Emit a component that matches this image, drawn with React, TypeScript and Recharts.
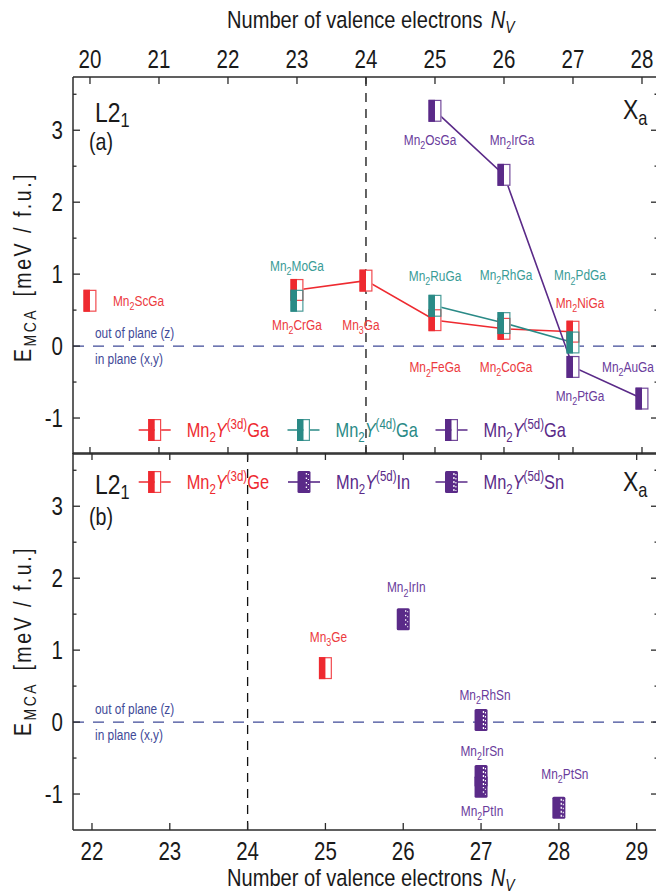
import React from 'react';
import { ComposedChart, Scatter, XAxis, YAxis, ReferenceLine } from 'recharts';

const FONT = "'Liberation Sans', Arial, sans-serif";
const SX = 0.82; // horizontal condensing to mimic a narrow face

type Pt = { nv: number; e: number; name: string };

// ---------- panel (a): Mn2Y Ga ----------
const gaY3dIsolated: Pt[] = [{ nv: 20, e: 0.63, name: 'Mn2ScGa' }];
const gaY3d: Pt[] = [
  { nv: 23, e: 0.78, name: 'Mn2CrGa' },
  { nv: 24, e: 0.91, name: 'Mn3Ga' },
  { nv: 25, e: 0.36, name: 'Mn2FeGa' },
  { nv: 26, e: 0.24, name: 'Mn2CoGa' },
  { nv: 27, e: 0.2, name: 'Mn2NiGa' },
];
const gaY4dIsolated: Pt[] = [{ nv: 23, e: 0.63, name: 'Mn2MoGa' }];
const gaY4d: Pt[] = [
  { nv: 25, e: 0.56, name: 'Mn2RuGa' },
  { nv: 26, e: 0.32, name: 'Mn2RhGa' },
  { nv: 27, e: 0.05, name: 'Mn2PdGa' },
];
const gaY5d: Pt[] = [
  { nv: 25, e: 3.27, name: 'Mn2OsGa' },
  { nv: 26, e: 2.38, name: 'Mn2IrGa' },
  { nv: 27, e: -0.29, name: 'Mn2PtGa' },
  { nv: 28, e: -0.73, name: 'Mn2AuGa' },
];

// ---------- panel (b): Ge, In, Sn ----------
const geY3d: Pt[] = [{ nv: 25, e: 0.75, name: 'Mn3Ge' }];
const inY5d: Pt[] = [
  { nv: 26, e: 1.43, name: 'Mn2IrIn' },
  { nv: 27, e: -0.9, name: 'Mn2PtIn' },
];
const snY5d: Pt[] = [
  { nv: 27, e: 0.03, name: 'Mn2RhSn' },
  { nv: 27, e: -0.75, name: 'Mn2IrSn' },
  { nv: 28, e: -1.19, name: 'Mn2PtSn' },
];

const xTicksA = [20, 21, 22, 23, 24, 25, 26, 27, 28];
const xTicksB = [22, 23, 24, 25, 26, 27, 28, 29];
const yTicks = [-1, -0.5, 0, 0.5, 1, 1.5, 2, 2.5, 3, 3.5];
const xDomainA: [number, number] = [19.754, 28.232];
const xDomainB: [number, number] = [21.756, 29.274];
const yDomain: [number, number] = [-1.5, 3.74];
const slaterPaulingNv = 24;

// ---------- styles ----------
const AX = '#2b2b2b';
const RED = '#ee2a30';
const TEAL = '#2a8a86';
const PURPLE = '#5a2a88';
const RED_T = '#ec3a40';
const TEAL_T = '#3a9c97';
const PURPLE_T = '#6a3c9c';
const NAVY = '#3f4a98';
const INK = '#1a1a1a';

const LABEL_OFFSET: Record<string, [number, number, string?]> = {
  Mn2ScGa: [23, 0, 'start'],
  Mn2CrGa: [0, 35],
  Mn2MoGa: [0, -35],
  Mn3Ga: [-5, 44],
  Mn2FeGa: [0, 47],
  Mn2RuGa: [0, -30],
  Mn2CoGa: [2, 38],
  Mn2RhGa: [2, -48],
  Mn2NiGa: [7, -29],
  Mn2PdGa: [7, -67],
  Mn2OsGa: [-5, 29],
  Mn2IrGa: [8, -35],
  Mn2PtGa: [7, 29],
  Mn2AuGa: [-40, -32, 'start'],
  Mn3Ge: [3, -31],
  Mn2IrIn: [3, -32],
  Mn2PtIn: [1, 24],
  Mn2RhSn: [4, -25],
  Mn2IrSn: [1, -25],
  Mn2PtSn: [6, -34],
};

const MW = 13;
const MH = 22;

// narrow text helper
const NT = ({ x, y, size, fill = INK, anchor = 'start', rotate, children, style }: any) => (
  <text
    transform={`translate(${x} ${y})${rotate ? ` rotate(${rotate})` : ''} scale(${SX} 1)`}
    x={0}
    y={0}
    fontSize={size}
    fontFamily={FONT}
    fill={fill}
    textAnchor={anchor}
    style={style}
  >
    {children}
  </text>
);

const SubText = ({ x, y, name, fill, size, anchor }: any) => {
  const parts: string[] = name.match(/[A-Za-z]+|\d+/g) || [];
  const off = size * 0.3;
  let prevSub = false;
  return (
    <NT x={x} y={y} fill={fill} size={size} anchor={anchor || 'middle'}>
      {parts.map((p, i) => {
        const isSub = /^\d+$/.test(p);
        let dy = 0;
        if (isSub && !prevSub) dy = off;
        if (!isSub && prevSub) dy = -off;
        prevSub = isSub;
        return (
          <tspan key={i} dy={dy} fontSize={isSub ? size * 0.75 : size}>
            {p}
          </tspan>
        );
      })}
    </NT>
  );
};

const HalfMarker = ({ cx, cy, color, variant }: any) => {
  const x0 = cx - MW / 2;
  const y0 = cy - MH / 2;
  if (variant === 'in' || variant === 'sn') {
    return (
      <g>
        <rect x={x0} y={y0} width={MW} height={MH} fill={color} rx={1.5} />
        <line
          x1={cx + 2.4}
          x2={cx + 2.4}
          y1={y0 + 2}
          y2={y0 + MH - 2}
          stroke="#fff"
          strokeWidth={1.3}
          strokeDasharray={variant === 'in' ? '1.5 3' : '2 2'}
        />
        <line
          x1={cx + 4.4}
          x2={cx + 4.4}
          y1={y0 + 3}
          y2={y0 + MH - 2}
          stroke="#fff"
          strokeWidth={1.1}
          strokeDasharray={variant === 'in' ? '1 4' : '1.5 2.5'}
        />
      </g>
    );
  }
  return (
    <g>
      <rect x={x0} y={y0} width={MW / 2} height={MH} fill={color} />
      <rect
        x={x0 + 0.6}
        y={y0 + 0.6}
        width={MW - 1.2}
        height={MH - 1.2}
        fill="none"
        stroke={color}
        strokeOpacity={0.85}
        strokeWidth={1.2}
      />
    </g>
  );
};

const bgShape = (p: any) => <rect x={p.cx} y={p.cy - MH / 2} width={MW / 2} height={MH} fill="#fff" />;
const emptyShape = () => <g />;

const makeMarkerShape = (color: string, textColor: string, variant?: string) => (p: any) => {
  const name = p.payload?.name ?? p.name;
  const off = LABEL_OFFSET[name] || [0, -30];
  return (
    <g>
      <HalfMarker cx={p.cx} cy={p.cy} color={color} variant={variant} />
      <SubText x={p.cx + off[0]} y={p.cy + off[1] + 5} name={name} fill={textColor} size={14.5} anchor={off[2]} />
    </g>
  );
};

// ---------- ticks ----------
const TICK_FS = 25;

const makeXTick = (side: 'top' | 'bottom', showLabel: boolean) => (p: any) => {
  const { x, y, payload } = p;
  const dir = side === 'top' ? 1 : -1;
  return (
    <g>
      <line x1={x} x2={x} y1={y} y2={y + dir * 7} stroke={AX} strokeWidth={1.3} />
      {showLabel && (
        <NT x={x} y={side === 'top' ? y - 9.5 : y + 30} size={TICK_FS} anchor="middle">
          {payload.value}
        </NT>
      )}
    </g>
  );
};

const makeYTick = (side: 'left' | 'right') => (p: any) => {
  const { x, y, payload } = p;
  const v = payload.value as number;
  const major = Number.isInteger(v);
  const len = major ? 7 : 3.5;
  const dir = side === 'left' ? 1 : -1;
  return (
    <g>
      <line x1={x} x2={x + dir * len} y1={y} y2={y} stroke={AX} strokeWidth={1.3} />
      {side === 'left' && major && (
        <NT x={x - 10} y={y + 9} size={TICK_FS} anchor="end">
          {v}
        </NT>
      )}
    </g>
  );
};

const axisLine = { stroke: AX, strokeWidth: 1.5 };

const frame = (xDomain: [number, number], xTicks: number[], labelSide: 'top' | 'bottom') => [
  <XAxis
    key="xt"
    xAxisId="t"
    orientation="top"
    type="number"
    dataKey="nv"
    domain={xDomain}
    ticks={xTicks}
    allowDataOverflow
    height={1}
    tickSize={0}
    tickMargin={0}
    tickLine={false}
    interval={0}
    axisLine={axisLine}
    tick={makeXTick('top', labelSide === 'top')}
  />,
  <XAxis
    key="xb"
    xAxisId="b"
    orientation="bottom"
    type="number"
    dataKey="nv"
    domain={xDomain}
    ticks={xTicks}
    allowDataOverflow
    height={1}
    tickSize={0}
    tickMargin={0}
    tickLine={false}
    interval={0}
    axisLine={axisLine}
    tick={makeXTick('bottom', labelSide === 'bottom')}
  />,
  <YAxis
    key="yl"
    yAxisId="l"
    orientation="left"
    type="number"
    dataKey="e"
    domain={yDomain}
    ticks={yTicks}
    allowDataOverflow
    width={1}
    tickSize={0}
    tickMargin={0}
    tickLine={false}
    interval={0}
    axisLine={axisLine}
    tick={makeYTick('left')}
  />,
  <YAxis
    key="yr"
    yAxisId="r"
    orientation="right"
    type="number"
    dataKey="e"
    domain={yDomain}
    ticks={yTicks}
    allowDataOverflow
    width={1}
    tickSize={0}
    tickMargin={0}
    tickLine={false}
    interval={0}
    axisLine={axisLine}
    tick={makeYTick('right')}
  />,
];

const sc = { xAxisId: 't', yAxisId: 'l', isAnimationActive: false } as const;

const PanelA = () => (
  <ComposedChart
    width={660}
    height={894}
    margin={{ top: 76, right: 1, bottom: 894 - 454 - 1, left: 72 }}
    style={{ position: 'absolute', left: 0, top: 0 }}
  >
    {frame(xDomainA, xTicksA, 'top')}
    <ReferenceLine xAxisId="t" yAxisId="l" y={0} stroke={NAVY} strokeWidth={1.3} strokeDasharray="11 9" />
    <ReferenceLine xAxisId="t" yAxisId="l" x={slaterPaulingNv} stroke="#111" strokeWidth={1.3} strokeDasharray="9 7" />
    <Scatter {...sc} data={gaY3d} line={{ stroke: RED, strokeWidth: 1.6 }} shape={emptyShape} />
    <Scatter {...sc} data={gaY4d} line={{ stroke: TEAL, strokeWidth: 1.6 }} shape={emptyShape} />
    <Scatter {...sc} data={gaY5d} line={{ stroke: PURPLE, strokeWidth: 1.6 }} shape={emptyShape} />
    <Scatter {...sc} data={[...gaY3dIsolated, ...gaY3d, ...gaY4dIsolated, ...gaY4d, ...gaY5d]} shape={bgShape} />
    <Scatter {...sc} data={[...gaY3dIsolated, ...gaY3d]} shape={makeMarkerShape(RED, RED_T)} />
    <Scatter {...sc} data={[...gaY4dIsolated, ...gaY4d]} shape={makeMarkerShape(TEAL, TEAL_T)} />
    <Scatter {...sc} data={gaY5d} shape={makeMarkerShape(PURPLE, PURPLE_T)} />
  </ComposedChart>
);

const PanelB = () => (
  <ComposedChart
    width={660}
    height={894}
    margin={{ top: 452, right: 1, bottom: 894 - 830 - 1, left: 72 }}
    style={{ position: 'absolute', left: 0, top: 0 }}
  >
    {frame(xDomainB, xTicksB, 'bottom')}
    <ReferenceLine xAxisId="t" yAxisId="l" y={0} stroke={NAVY} strokeWidth={1.3} strokeDasharray="11 9" />
    <ReferenceLine xAxisId="t" yAxisId="l" x={slaterPaulingNv} stroke="#111" strokeWidth={1.3} strokeDasharray="9 7" />
    <Scatter {...sc} data={geY3d} shape={bgShape} />
    <Scatter {...sc} data={geY3d} shape={makeMarkerShape(RED, RED_T)} />
    <Scatter {...sc} data={inY5d} shape={makeMarkerShape(PURPLE, PURPLE_T, 'in')} />
    <Scatter {...sc} data={snY5d} shape={makeMarkerShape(PURPLE, PURPLE_T, 'sn')} />
  </ComposedChart>
);

const LegendItem = ({ x, y, color, textColor, shell, tail, variant }: any) => (
  <g>
    <line x1={x - 16} x2={x + 16} y1={y} y2={y} stroke={color} strokeWidth={1.6} />
    {!variant && <rect x={x} y={y - MH / 2} width={MW / 2} height={MH} fill="#fff" />}
    <HalfMarker cx={x} cy={y} color={color} variant={variant} />
    <NT x={x + 32} y={y + 7} fill={textColor} size={20}>
      Mn
      <tspan fontSize={14} dy={5}>2</tspan>
      <tspan fontStyle="italic" dy={-5}>Y</tspan>
      <tspan fontSize={14} dy={-8}>({shell})</tspan>
      <tspan dy={8}>{tail}</tspan>
    </NT>
  </g>
);

const XTitle = ({ y }: any) => (
  <NT x={227} y={y} size={24.5}>
    Number of valence electrons
    <tspan dx={10} fontStyle="italic">N</tspan>
    <tspan fontStyle="italic" fontSize={17} dy={5}>V</tspan>
  </NT>
);

const Overlay = () => (
  <svg width={656} height={894} style={{ position: 'absolute', left: 0, top: 0, pointerEvents: 'none' }}>
    <XTitle y={28} />
    <XTitle y={886} />
    {[267, 641].map((cy) => (
      <NT key={cy} x={31} y={cy} rotate={-90} size={24} anchor="middle" style={{ letterSpacing: '3px' }}>
        E<tspan fontSize={17} dy={5}>MCA</tspan>
        <tspan dy={-5} dx={14}>[meV / f.u.]</tspan>
      </NT>
    ))}
    {[
      { y: 122, tag: '(a)', ty: 150 },
      { y: 494, tag: '(b)', ty: 525 },
    ].map((o) => (
      <g key={o.tag}>
        <NT x={95} y={o.y} size={28}>
          L2<tspan fontSize={20} dy={5}>1</tspan>
        </NT>
        <NT x={89} y={o.ty} size={24}>
          {o.tag}
        </NT>
        <NT x={623} y={o.y - 3} size={28}>
          X<tspan fontSize={20} dy={6}>a</tspan>
        </NT>
      </g>
    ))}
    {[0, 376].map((d) => (
      <g key={d}>
        <NT x={95} y={338 + d} size={14.5} fill={NAVY}>
          out of plane (z)
        </NT>
        <NT x={95} y={364 + d} size={14.5} fill={NAVY}>
          in plane (x,y)
        </NT>
      </g>
    ))}
    <LegendItem x={154.7} y={430} color={RED} textColor={RED} shell="3d" tail="Ga" />
    <LegendItem x={303.5} y={430} color={TEAL} textColor={TEAL} shell="4d" tail="Ga" />
    <LegendItem x={451.5} y={430} color={PURPLE} textColor={PURPLE} shell="5d" tail="Ga" />
    <LegendItem x={154.7} y={482} color={RED} textColor={RED} shell="3d" tail="Ge" />
    <LegendItem x={304} y={482} color={PURPLE} textColor={PURPLE} shell="5d" tail="In" variant="in" />
    <LegendItem x={451.5} y={482} color={PURPLE} textColor={PURPLE} shell="5d" tail="Sn" variant="sn" />
  </svg>
);

export default function App() {
  return (
    <div style={{ position: 'absolute', left: 0, top: 0, width: 656, height: 894, overflow: 'hidden', background: '#fff' }}>
      <PanelA />
      <PanelB />
      <Overlay />
    </div>
  );
}
